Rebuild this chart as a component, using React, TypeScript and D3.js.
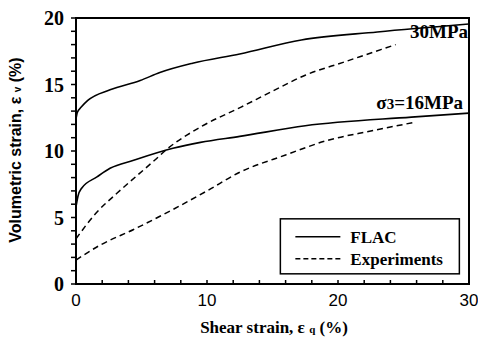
import React, { useRef, useEffect } from 'react';
import * as d3 from 'd3';

// shear strain (%), volumetric strain (%)
const flac30 = [[0, 12.4], [0.1, 12.9], [0.4, 13.3], [0.9, 13.8], [2.6, 14.6], [4.9, 15.3], [6.4, 15.9], [8.9, 16.6], [12.5, 17.3], [17.2, 18.35], [23, 18.95], [30, 19.55]];
const exp30 = [[0, 3.4], [1.5, 5.3], [3.1, 6.8], [4.6, 8.1], [6.0, 9.3], [6.9, 10.1], [9.5, 11.8], [12.6, 13.3], [15, 14.5], [17.5, 15.7], [20.5, 16.7], [24.4, 18.0]];
const flac16 = [[0, 5.8], [0.15, 6.6], [0.43, 7.2], [1.6, 8.05], [2.6, 8.7], [4.4, 9.3], [7.4, 10.2], [9.5, 10.65], [12.5, 11.1], [17.5, 11.9], [25.6, 12.55], [30, 12.85]];
const exp16 = [[0, 1.8], [1.8, 2.9], [4.4, 4.1], [7.4, 5.6], [10, 7.0], [12.5, 8.4], [16, 9.7], [19.2, 10.8], [22.5, 11.5], [25.8, 12.15]];

const xTicks = [0, 10, 20, 30];
const yTicks = [0, 5, 10, 15, 20];

const SERIF = 'Liberation Serif';
const SANS = 'Liberation Sans';

function Chart() {
  const ref = useRef(null);
  const outerWidth = 478, outerHeight = 341;
  const margin = { top: 18, right: 9, bottom: 57, left: 76 };
  const width = outerWidth - margin.left - margin.right,
    height = outerHeight - margin.top - margin.bottom;

  useEffect(() => {
    const svg = d3.select(ref.current);
    svg.selectAll('*').remove();
    const g = svg.append('g').attr('transform', `translate(${margin.left},${margin.top})`);

    const x = d3.scaleLinear().domain([0, 30]).range([0, width]);
    const y = d3.scaleLinear().domain([0, 20]).range([height, 0]);

    // minor ticks
    g.selectAll('.ytick').data(d3.range(0, 21, 1)).enter().append('line')
      .attr('x1', -5).attr('x2', 0)
      .attr('y1', d => y(d)).attr('y2', d => y(d))
      .attr('stroke', 'black').attr('stroke-width', 1.5);
    g.selectAll('.xtick').data(d3.range(0, 31, 2)).enter().append('line')
      .attr('x1', d => x(d)).attr('x2', d => x(d))
      .attr('y1', height).attr('y2', height - 4)
      .attr('stroke', 'black').attr('stroke-width', 1.5);

    // frame
    g.append('rect').attr('width', width).attr('height', height)
      .attr('fill', 'none').attr('stroke', 'black').attr('stroke-width', 2);

    g.selectAll('.ylab').data(yTicks).enter().append('text')
      .attr('x', -12).attr('y', d => y(d)).attr('dy', '0.35em')
      .attr('text-anchor', 'end')
      .attr('font-family', SERIF).attr('font-weight', 'bold').attr('font-size', 20)
      .text(d => d);
    g.selectAll('.xlab').data(xTicks).enter().append('text')
      .attr('x', d => x(d)).attr('y', height + 22)
      .attr('text-anchor', 'middle')
      .attr('font-family', SANS).attr('font-size', 17)
      .text(d => d);

    const line = d3.line().x(d => x(d[0])).y(d => y(d[1])).curve(d3.curveMonotoneX);
    [flac30, flac16].forEach(s => {
      g.append('path').attr('d', line(s)).attr('fill', 'none')
        .attr('stroke', 'black').attr('stroke-width', 1.6);
    });
    [exp30, exp16].forEach(s => {
      g.append('path').attr('d', line(s)).attr('fill', 'none')
        .attr('stroke', 'black').attr('stroke-width', 1.5).attr('stroke-dasharray', '6,4');
    });

    const bold = (sel) => sel.attr('font-family', SERIF).attr('font-weight', 'bold').attr('fill', 'black');

    g.append('text').attr('x', width - 1).attr('y', y(18.4) - 1).attr('text-anchor', 'end')
      .call(bold).attr('font-size', 19).text('30MPa');
    const t16 = g.append('text').attr('x', width - 6).attr('y', y(13.1) - 1).attr('text-anchor', 'end')
      .call(bold).attr('font-size', 19);
    t16.append('tspan').text('σ');
    t16.append('tspan').attr('font-size', 15).text('3');
    t16.append('tspan').text('=16MPa');

    // legend
    const lg = g.append('g').attr('transform', `translate(${x(15.6)},${y(4.9)})`);
    lg.append('rect').attr('width', 179).attr('height', 55)
      .attr('fill', 'white').attr('stroke', 'black').attr('stroke-width', 1.5);
    lg.append('line').attr('x1', 15).attr('x2', 60).attr('y1', 18).attr('y2', 18)
      .attr('stroke', 'black').attr('stroke-width', 1.5);
    lg.append('line').attr('x1', 15).attr('x2', 60).attr('y1', 40).attr('y2', 40)
      .attr('stroke', 'black').attr('stroke-width', 1.5).attr('stroke-dasharray', '5,3');
    lg.append('text').attr('x', 70).attr('y', 24).call(bold).attr('font-size', 17).text('FLAC');
    lg.append('text').attr('x', 70).attr('y', 46).call(bold).attr('font-size', 17).text('Experiments');

    // axis titles
    const xt = svg.append('text').attr('x', 274).attr('y', 333)
      .attr('text-anchor', 'middle').call(bold).attr('font-size', 17);
    xt.append('tspan').text('Shear strain, ε ');
    xt.append('tspan').attr('font-size', 11).text('q');
    xt.append('tspan').text(' (%)');

    const yt = svg.append('text').attr('transform', `translate(21,150) rotate(-90)`)
      .attr('text-anchor', 'middle')
      .attr('font-family', SANS).attr('font-weight', 'bold').attr('font-size', 16);
    yt.append('tspan').text('Volumetric strain, ε ');
    yt.append('tspan').attr('font-size', 10).text('v');
    yt.append('tspan').text(' (%)');
  }, []);

  return <svg ref={ref} width={outerWidth} height={outerHeight} style={{ display: 'block' }} />;
}

export default function App() {
  return (
    <div style={{ position: 'absolute', left: 0, top: 0 }}>
      <Chart />
    </div>
  );
}
